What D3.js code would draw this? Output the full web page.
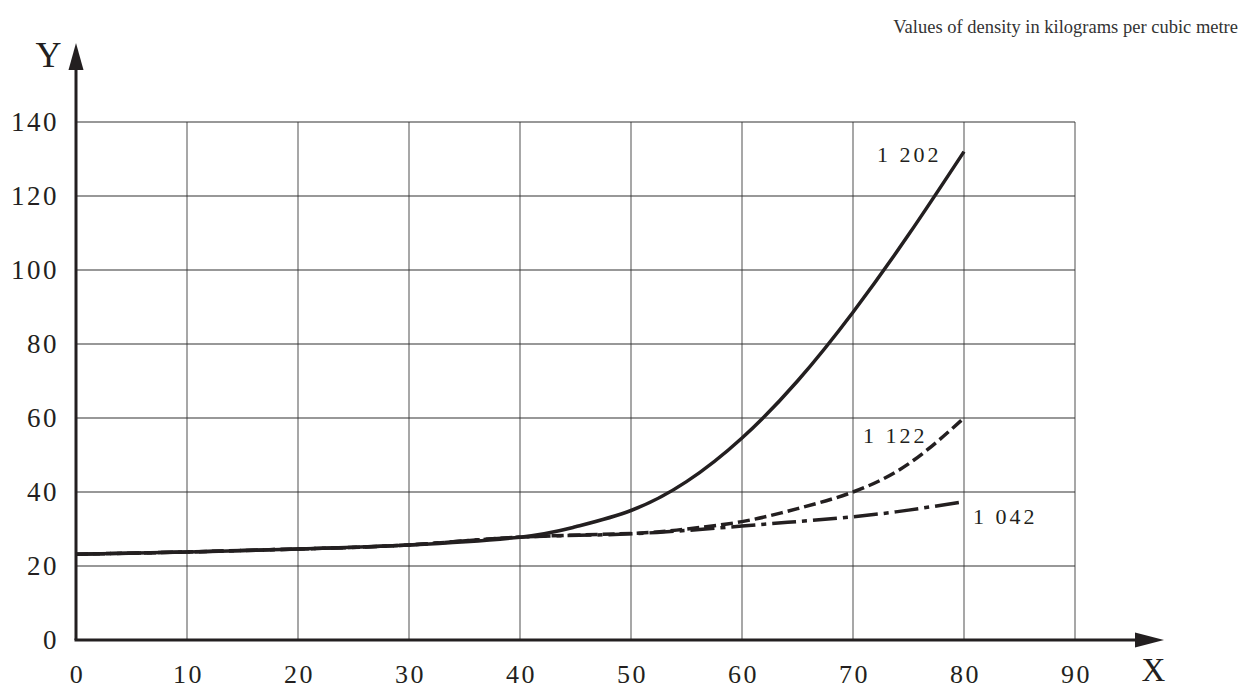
<!DOCTYPE html>
<html>
<head>
<meta charset="utf-8">
<script src="https://cdn.jsdelivr.net/npm/d3@7"></script>
<style>
body { margin: 0; background: #fff; }
svg text { font-family: "Liberation Serif", "DejaVu Serif", serif; fill: #231f20; }
</style>
</head>
<body>
<div id="content"></div>
<script>
// data
var xTicks = [0, 10, 20, 30, 40, 50, 60, 70, 80, 90];
var yTicks = [0, 20, 40, 60, 80, 100, 120, 140];

var x1202 = [0, 10, 20, 30, 40, 45, 50, 55, 60, 65, 70, 75, 80];
var y1202 = [23.2, 23.8, 24.6, 25.7, 27.8, 30.6, 35, 42.8, 54.6, 70, 88.6, 109.5, 132];

var x1122 = [0, 10, 20, 30, 40, 50, 55, 60, 65, 70, 75, 80];
var y1122 = [23.2, 23.8, 24.6, 25.7, 27.8, 28.8, 30, 32, 35.5, 40, 47.6, 60];

var x1042 = [0, 10, 20, 30, 40, 50, 60, 65, 70, 75, 80];
var y1042 = [23.2, 23.8, 24.6, 25.7, 27.8, 28.7, 30.8, 32, 33.3, 35.1, 37.4];

var labels = ["1 202", "1 122", "1 042"];
var title = "Values of density in kilograms per cubic metre";

var W = 1256, H = 689;
var svg = d3.select("#content").append("svg")
	.attr("width", W)
	.attr("height", H);

var x = d3.scaleLinear().domain([0, 90]).range([76, 1075]);
var y = d3.scaleLinear().domain([0, 140]).range([640, 122]);

/* grid */
svg.selectAll(".vgrid").data(xTicks.slice(1)).enter().append("line")
	.attr("x1", function(d){ return x(d); })
	.attr("x2", function(d){ return x(d); })
	.attr("y1", y(0))
	.attr("y2", y(140))
	.attr("style", "stroke:#8a8a8a; stroke-width:1.5px;");

svg.selectAll(".hgrid").data(yTicks.slice(1)).enter().append("line")
	.attr("x1", x(0))
	.attr("x2", x(90))
	.attr("y1", function(d){ return y(d); })
	.attr("y2", function(d){ return y(d); })
	.attr("style", "stroke:#333; stroke-width:1.2px;");

/* axes */
svg.append("line")
	.attr("x1", x(0)).attr("y1", y(0))
	.attr("x2", x(0)).attr("y2", 66)
	.attr("style", "stroke:#231f20; stroke-width:3px;");
svg.append("polygon")
	.attr("points", x(0) + ",43 " + (x(0)-7.5) + ",70 " + (x(0)+7.5) + ",70")
	.attr("fill", "#231f20");

svg.append("line")
	.attr("x1", x(0)-1.5).attr("y1", y(0))
	.attr("x2", 1140).attr("y2", y(0))
	.attr("style", "stroke:#231f20; stroke-width:3px;");
svg.append("polygon")
	.attr("points", "1164," + y(0) + " 1135," + (y(0)-7.5) + " 1135," + (y(0)+7.5))
	.attr("fill", "#231f20");

svg.append("text").attr("x", 48.5).attr("y", 67)
	.attr("text-anchor", "middle")
	.attr("font-size", "36px")
	.text("Y");
svg.append("text").attr("x", 1153.5).attr("y", 681)
	.attr("text-anchor", "middle")
	.attr("font-size", "33px")
	.text("X");

/* tick labels */
svg.selectAll(".ylab").data(yTicks).enter().append("text")
	.attr("x", 59)
	.attr("y", function(d){ return y(d) + 9; })
	.attr("text-anchor", "end")
	.attr("font-size", "27px")
	.attr("letter-spacing", "2.5px")
	.text(function(d){ return d; });

svg.selectAll(".xlab").data(xTicks).enter().append("text")
	.attr("x", function(d){ return x(d) + 1.5; })
	.attr("y", 683)
	.attr("text-anchor", "middle")
	.attr("font-size", "26px")
	.attr("letter-spacing", "2.5px")
	.text(function(d){ return d; });

/* title */
svg.append("text").attr("x", 1238).attr("y", 33)
	.attr("text-anchor", "end")
	.attr("font-size", "18.5px")
	.attr("style", "fill:#333")
	.text(title);

/* curves */
var line = d3.line()
	.x(function(d){ return x(d[0]); })
	.y(function(d){ return y(d[1]); })
	.curve(d3.curveNatural);

function pairs(xs, ys){
	return xs.map(function(v, i){ return [v, ys[i]]; });
}

svg.append("path")
	.attr("d", line(pairs(x1042, y1042)))
	.attr("style", "fill:none; stroke:#231f20; stroke-width:3.5px; stroke-dasharray:24 6 5 6;");
svg.append("path")
	.attr("d", line(pairs(x1122, y1122)))
	.attr("style", "fill:none; stroke:#231f20; stroke-width:3.5px; stroke-dasharray:12 5;");
svg.append("path")
	.attr("d", line(pairs(x1202, y1202)))
	.attr("style", "fill:none; stroke:#231f20; stroke-width:3.5px;");

/* curve labels */
var labelPos = [[877, 162], [863, 443], [973, 524]];
svg.selectAll(".clab").data(labels).enter().append("text")
	.attr("x", function(d, i){ return labelPos[i][0]; })
	.attr("y", function(d, i){ return labelPos[i][1]; })
	.attr("font-size", "22px")
	.attr("letter-spacing", "3px")
	.text(function(d){ return d; });
</script>
</body>
</html>
